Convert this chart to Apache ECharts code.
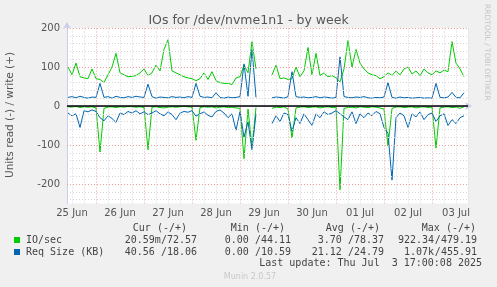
<!DOCTYPE html>
<html><head><meta charset="utf-8">
<script src="https://cdn.jsdelivr.net/npm/echarts@6/dist/echarts.min.js"></script>
<style>html,body{margin:0;padding:0;background:#f0f0f0}#c{width:497px;height:287px}</style>
</head><body><div id="c"></div>
<script>
// time axis: hours since 25 Jun 00:00, samples every 2 h starting at hour 10
const START_HOUR = 10, STEP_HOURS = 2;
const dayLabels = ['25 Jun','26 Jun','27 Jun','28 Jun','29 Jun','30 Jun','01 Jul','02 Jul','03 Jul'];
const labelHours = [12,36,60,84,108,132,156,180,204];
const midnightHours = [24,48,72,96,120,144,168,192];
const minorHours = [12,18,30,36,42,54,60,66,78,84,90,102,108,114,126,132,138,150,156,162,174,180,186,198,204,210];
const yTickLabels = [-200,-100,0,100,200];
const yMajor = [-200,-100,100,200];
const yMinor = [-240,-220,-180,-160,-140,-120,-80,-60,-40,-20,20,40,60,80,120,140,160,180];

// IO/sec write (+)
const ioWrite = [100,80,110,75,72,70,95,70,68,60,
 80,100,135,85,80,75,76,78,85,95,
 78,85,105,90,145,170,90,85,80,75,
 72,70,65,70,85,68,88,65,60,58,
 58,55,72,75,105,85,165,95,null,null,
 null,80,105,70,72,68,70,100,75,90,
 150,80,135,78,85,75,78,72,62,95,
 168,100,145,110,95,85,80,78,70,75,
 85,78,90,80,95,100,82,90,78,95,
 85,80,90,85,92,88,165,110,95,75];
// IO/sec read (-)
const ioRead = [-2,-3,-1,-4,-2,-3,-2,-5,-118,-6,
 -3,-2,-4,-2,-3,-1,-2,-3,-2,-4,
 -112,-3,-2,-4,-5,-3,-2,-3,-2,-1,
 -2,-3,-88,-4,-2,-3,-2,-5,-3,-2,
 -4,-3,-5,-6,-135,-8,-104,-4,null,null,
 null,-6,-3,-4,-2,-8,-82,-5,-3,-2,
 -4,-3,-2,-5,-3,-2,-4,-3,-215,-6,
 -4,-3,-5,-2,-3,-4,-2,-3,-5,-8,
 -103,-6,-3,-2,-4,-3,-2,-5,-3,-2,
 -4,-3,-108,-5,-3,-2,-4,-3,-6,-2];
// Req Size (KB) write (+)
const reqWrite = [22,24,21,25,22,20,23,22,58,22,
 24,20,25,22,21,24,22,25,23,22,
 56,24,20,23,22,21,24,22,23,21,
 24,22,58,25,22,23,21,34,22,20,
 23,21,22,24,108,25,145,22,null,null,
 null,21,23,22,20,24,88,24,22,23,
 21,22,24,21,23,22,20,22,126,24,
 22,21,23,22,24,21,20,22,21,23,
 60,22,20,23,21,22,20,21,22,20,
 21,20,58,22,21,23,35,22,21,34];
// Req Size (KB) read (-)
const reqRead = [-18,-25,-20,-55,-12,-15,-10,-14,-30,-38,
 -25,-32,-42,-18,-22,-14,-18,-12,-20,-15,
 -22,-18,-12,-20,-25,-15,-22,-35,-18,-14,
 -16,-12,-26,-20,-15,-24,-28,-14,-10,-18,
 -30,-20,-62,-15,-80,-40,-112,-20,null,null,
 null,-45,-25,-40,-18,-22,-65,-30,-45,-20,
 -35,-50,-20,-30,-15,-22,-18,-12,-20,-28,
 -35,-15,-45,-20,-30,-18,-25,-14,-20,-55,
 -70,-190,-30,-18,-25,-55,-20,-28,-15,-35,
 -22,-18,-40,-25,-20,-50,-35,-45,-30,-25];

function pairs(arr){ return arr.map((v,i)=>[START_HOUR+STEP_HOURS*i, v]); }

const GREEN='#00cc00', BLUE='#0066b3';
const minorStyle={color:'#d4d4d4',type:[1,2],width:1};
const majorStyle={color:'#eea0a0',type:[1,2],width:1};
const gridLines=[]
  .concat(minorHours.map(h=>({xAxis:h,lineStyle:minorStyle})))
  .concat(yMinor.map(v=>({yAxis:v,lineStyle:minorStyle})))
  .concat(midnightHours.map(h=>({xAxis:h,lineStyle:majorStyle})))
  .concat(yMajor.map(v=>({yAxis:v,lineStyle:majorStyle})));

const chart=echarts.init(document.getElementById('c'),null,{renderer:'canvas'});
const mono='DejaVu Sans Mono';
const txtColor='#444';
function t(x,y,s,align,extra){return Object.assign({type:'text',left:undefined,x:x,y:y,style:{text:s,font:'10px "'+mono+'"',fill:txtColor,textAlign:align||'left',textVerticalAlign:'middle'}},extra||{});}
chart.setOption({
  backgroundColor:'#f0f0f0',
  animation:false,
  title:{text:'IOs for /dev/nvme1n1 - by week',left:'center',top:9,textStyle:{fontFamily:'DejaVu Sans',fontSize:12.5,fontWeight:'normal',color:'#555'}},
  grid:{left:67,right:29,top:28,bottom:83.5,show:true,backgroundColor:'#ffffff',borderWidth:0},
  xAxis:{type:'value',min:9.5,max:210,
    axisLine:{show:true,lineStyle:{color:'#c8ccee',width:1},symbol:['none','arrow'],symbolSize:[6,7],symbolOffset:[0,4]},
    axisTick:{show:true,customValues:midnightHours,length:3,inside:false,lineStyle:{color:'#eea0a0'}},
    axisLabel:{customValues:labelHours,formatter:v=>dayLabels[labelHours.indexOf(v)],fontFamily:'DejaVu Sans',fontSize:10,color:'#555',margin:5},
    splitLine:{show:false}},
  yAxis:{type:'value',min:-250,max:200,
    axisLine:{show:true,lineStyle:{color:'#c8ccee',width:1},symbol:['none','arrow'],symbolSize:[6,7],symbolOffset:[0,6]},
    axisTick:{show:false},
    axisLabel:{customValues:yTickLabels,fontFamily:'DejaVu Sans',fontSize:10,color:'#555',margin:7},
    splitLine:{show:false}},
  graphic:[
    {type:'text',x:10,y:115,rotation:Math.PI/2,style:{text:'Units read (-) / write (+)',font:'10.5px "DejaVu Sans"',fill:'#555',textAlign:'center',textVerticalAlign:'middle'}},
    {type:'text',x:487,y:4,rotation:-Math.PI/2,style:{text:'RRDTOOL / TOBI OETIKER',font:'7.5px "DejaVu Sans"',fill:'#c4c4c4',textAlign:'left',textVerticalAlign:'middle'}},
    t(187,228,'Cur (-/+)','right'), t(285,228,'Min (-/+)','right'), t(380,228,'Avg (-/+)','right'), t(476,228,'Max (-/+)','right'),
    {type:'rect',shape:{x:14,y:237,width:6,height:6},style:{fill:GREEN}},
    {type:'rect',shape:{x:14,y:249,width:6,height:6},style:{fill:BLUE}},
    t(26,240,'IO/sec'), t(26,252,'Req Size (KB)'),
    t(197,240,'20.59m/72.57','right'), t(291,240,'0.00 /44.11','right'), t(384,240,'3.70 /78.37','right'),
    t(434,240,'922.34','right'), t(477,240,'/479.19','right'),
    t(197,252,'40.56 /18.06','right'), t(291,252,'0.00 /10.59','right'), t(384,252,'21.12 /24.79','right'),
    t(434,252,'1.07k','right'), t(477,252,'/455.91','right'),
    t(482,263,'Last update: Thu Jul  3 17:00:08 2025','right'),
    {type:'text',x:250,y:277,style:{text:'Munin 2.0.57',font:'8px "DejaVu Sans"',fill:'#c8c8c8',textAlign:'center',textVerticalAlign:'middle'}}
  ],
  series:[
    {type:'line',data:[],silent:true,z:1,markLine:{silent:true,symbol:'none',label:{show:false},animation:false,data:gridLines}},
    {type:'line',name:'IO/sec write',data:pairs(ioWrite),showSymbol:false,connectNulls:false,lineStyle:{color:GREEN,width:1},z:3},
    {type:'line',name:'IO/sec read',data:pairs(ioRead),showSymbol:false,connectNulls:false,lineStyle:{color:GREEN,width:1},z:3},
    {type:'line',name:'Req write',data:pairs(reqWrite),showSymbol:false,connectNulls:false,lineStyle:{color:BLUE,width:1},z:4},
    {type:'line',name:'Req read',data:pairs(reqRead),showSymbol:false,connectNulls:false,lineStyle:{color:BLUE,width:1},z:4,
      markLine:{silent:true,symbol:'none',label:{show:false},animation:false,data:[{yAxis:0,lineStyle:{color:'#000',type:'solid',width:1.5}}]}}
  ]
});
</script></body></html>
